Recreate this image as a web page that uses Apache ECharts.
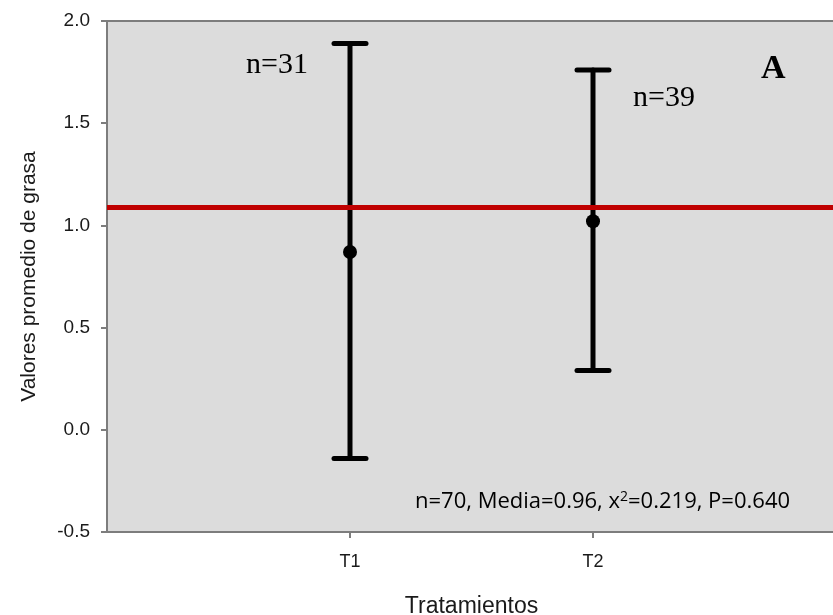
<!DOCTYPE html>
<html><head><meta charset="utf-8">
<script src="https://cdn.jsdelivr.net/npm/echarts@6/dist/echarts.min.js"></script>
<style>html,body{margin:0;padding:0;background:#fff}#c{width:833px;height:615px}</style>
</head><body><div id="c"></div>
<script>
// ---- data ----
const categories = ['', 'T1', 'T2', ''];
const treatments = ['T1', 'T2'];
const means = [0.87, 1.02];
const upperCI = [1.89, 1.76];
const lowerCI = [-0.14, 0.29];
const overallMean = 1.09;
const sampleLabels = ['n=31', 'n=39'];
const yMin = -0.5, yMax = 2.0, yStep = 0.5;
const yTitle = 'Valores promedio de grasa';
const xTitle = 'Tratamientos';
const panelLetter = 'A';

const chart = echarts.init(document.getElementById('c'), null, {renderer: 'canvas'});
const axisGray = '#7d7d7d';
const errData = treatments.map((t, i) => [t, lowerCI[i], upperCI[i]]);
const meanData = treatments.map((t, i) => [t, means[i]]);

chart.setOption({
  animation: false,
  backgroundColor: '#ffffff',
  grid: {left: 107, top: 21, width: 729, height: 511, show: true, outerBoundsMode: 'none', containLabel: false,
         backgroundColor: '#dcdcdc', borderColor: axisGray, borderWidth: 2},
  xAxis: {
    type: 'category', data: categories, boundaryGap: false,
    name: xTitle, nameLocation: 'middle', nameGap: 63,
    nameTextStyle: {fontFamily: 'Liberation Sans, Arial', fontSize: 23, color: '#1a1a1a'},
    axisLine: {onZero: false, lineStyle: {color: axisGray, width: 2}},
    axisTick: {show: true, length: 6, interval: (i) => i === 1 || i === 2, lineStyle: {color: axisGray, width: 2}},
    axisLabel: {interval: (i) => i === 1 || i === 2, margin: 21,
                fontFamily: 'Liberation Sans, Arial', fontSize: 18, color: '#1a1a1a'},
    splitLine: {show: false}
  },
  yAxis: {
    type: 'value', min: yMin, max: yMax, interval: yStep,
    name: yTitle, nameLocation: 'middle', nameGap: 67,
    nameTextStyle: {fontFamily: 'Liberation Sans, Arial', fontSize: 21, color: '#1a1a1a'},
    axisLine: {show: true, lineStyle: {color: axisGray, width: 2}},
    axisTick: {show: true, length: 6, lineStyle: {color: axisGray, width: 2}},
    axisLabel: {margin: 17, formatter: (v) => v.toFixed(1),
                fontFamily: 'Liberation Sans, Arial', fontSize: 19, color: '#1a1a1a'},
    splitLine: {show: false}
  },
  series: [
    {
      type: 'custom', data: errData, z: 3,
      renderItem: function (params, api) {
        const lo = api.coord([api.value(0), api.value(1)]);
        const hi = api.coord([api.value(0), api.value(2)]);
        const hw = 16;
        const st = {stroke: '#000', lineWidth: 5, lineCap: 'round'};
        return {type: 'group', children: [
          {type: 'line', shape: {x1: lo[0], y1: lo[1], x2: hi[0], y2: hi[1]}, style: st},
          {type: 'line', shape: {x1: hi[0] - hw, y1: hi[1], x2: hi[0] + hw, y2: hi[1]}, style: st},
          {type: 'line', shape: {x1: lo[0] - hw, y1: lo[1], x2: lo[0] + hw, y2: lo[1]}, style: st}
        ]};
      }
    },
    {
      type: 'scatter', data: meanData, symbolSize: 14, z: 4,
      itemStyle: {color: '#000', opacity: 1},
      markLine: {
        silent: true, symbol: 'none', label: {show: false},
        lineStyle: {color: '#c00000', width: 5, type: 'solid', opacity: 1},
        data: [{yAxis: overallMean}]
      }
    }
  ],
  graphic: [
    {type: 'text', left: 246, top: 50, style: {text: sampleLabels[0], font: '30px "Liberation Serif", "Times New Roman", serif', fill: '#000'}},
    {type: 'text', left: 633, top: 83, style: {text: sampleLabels[1], font: '30px "Liberation Serif", "Times New Roman", serif', fill: '#000'}},
    {type: 'text', left: 761, top: 52, style: {text: panelLetter, font: 'bold 34px "Liberation Serif", "Times New Roman", serif', fill: '#000'}},
    {type: 'text', left: 415, top: 490, style: {
      rich: {
        t: {fontFamily: '"Open Sans", "Noto Sans", sans-serif', fontSize: 22, fill: '#000'},
        s: {fontFamily: '"Open Sans", "Noto Sans", sans-serif', fontSize: 14, fill: '#000', verticalAlign: 'top', padding: [0,0,10,0]}
      },
      text: '{t|n=70, Media=0.96, x}{s|2}{t|=0.219, P=0.640}'
    }}
  ]
});
</script></body></html>
